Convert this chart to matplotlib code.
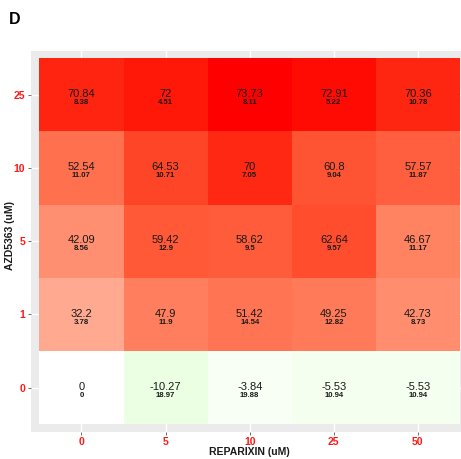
import numpy as np
import matplotlib
matplotlib.use("Agg")
import matplotlib.pyplot as plt
from matplotlib.colors import ListedColormap, Normalize

# Doses
reparixin = ["0", "5", "10", "25", "50"]          # x axis (uM)
azd5363 = ["0", "1", "5", "10", "25"]             # y axis (uM), bottom to top

# Mean inhibition (%) per cell, rows follow azd5363 order
mean_vals = [
    [0, -10.27, -3.84, -5.53, -5.53],
    [32.2, 47.9, 51.42, 49.25, 42.73],
    [42.09, 59.42, 58.62, 62.64, 46.67],
    [52.54, 64.53, 70, 60.8, 57.57],
    [70.84, 72, 73.73, 72.91, 70.36],
]
# Standard deviation per cell
sd_vals = [
    [0, 18.97, 19.88, 10.94, 10.94],
    [3.78, 11.9, 14.54, 12.82, 8.73],
    [8.56, 12.9, 9.5, 9.57, 11.17],
    [11.07, 10.71, 7.05, 9.04, 11.87],
    [8.38, 4.51, 8.11, 5.22, 10.78],
]


# --- diverging green-white-red scale interpolated in CIE Lab ---
def srgb_to_lab(rgb):
    rgb = np.asarray(rgb, float)
    lin = np.where(rgb <= 0.04045, rgb / 12.92, ((rgb + 0.055) / 1.055) ** 2.4)
    M = np.array([[0.4124564, 0.3575761, 0.1804375],
                  [0.2126729, 0.7151522, 0.0721750],
                  [0.0193339, 0.1191920, 0.9503041]])
    xyz = lin @ M.T
    wp = np.array([0.95047, 1.0, 1.08883])
    t = xyz / wp
    d = 6 / 29
    f = np.where(t > d ** 3, np.cbrt(t), t / (3 * d * d) + 4 / 29)
    L = 116 * f[..., 1] - 16
    a = 500 * (f[..., 0] - f[..., 1])
    b = 200 * (f[..., 1] - f[..., 2])
    return np.stack([L, a, b], -1)


def lab_to_srgb(lab):
    lab = np.asarray(lab, float)
    fy = (lab[..., 0] + 16) / 116
    fx = fy + lab[..., 1] / 500
    fz = fy - lab[..., 2] / 200
    d = 6 / 29
    f = np.stack([fx, fy, fz], -1)
    t = np.where(f > d, f ** 3, 3 * d * d * (f - 4 / 29))
    xyz = t * np.array([0.95047, 1.0, 1.08883])
    Minv = np.array([[3.2404542, -1.5371385, -0.4985314],
                     [-0.9692660, 1.8760108, 0.0415560],
                     [0.0556434, -0.2040259, 1.0572252]])
    lin = xyz @ Minv.T
    lin = np.clip(lin, 0, 1)
    rgb = np.where(lin <= 0.0031308, 12.92 * lin, 1.055 * lin ** (1 / 2.4) - 0.055)
    return np.clip(rgb, 0, 1)


low, mid, high = (0, 1, 0), (1, 1, 1), (1, 0, 0)
labs = srgb_to_lab([low, mid, high])
n = 256
s = np.linspace(0, 1, n)[:, None]
lower = labs[0] + (labs[1] - labs[0]) * s
upper = labs[1] + (labs[2] - labs[1]) * s
cmap = ListedColormap(np.vstack([lab_to_srgb(lower[:-1]), lab_to_srgb(upper)]))

vals = np.array(mean_vals, float)
lim = np.abs(vals).max()
norm = Normalize(vmin=-lim, vmax=lim)

plt.rcParams["font.family"] = ["Liberation Sans", "DejaVu Sans"]

fig = plt.figure(figsize=(4.61, 4.59), dpi=100)
W, H = 461, 459
px0, px1 = 31, 468.4
py0, py1 = 50.7, 431.6
ax = fig.add_axes([px0 / W, 1 - py1 / H, (px1 - px0) / W, (py1 - py0) / H])
ax.set_facecolor("#ebebeb")
ax.set_axisbelow(True)
for sp in ax.spines.values():
    sp.set_visible(False)

nx, ny = len(reparixin), len(azd5363)
xe = np.arange(nx + 1) - 0.5
ye = np.arange(ny + 1) - 0.5
ax.pcolormesh(xe, ye, vals, cmap=cmap, norm=norm, shading="flat", zorder=2)

for i in range(ny):
    for j in range(nx):
        ax.text(j, i + 0.01, f"{mean_vals[i][j]:g}", ha="center", va="center",
                fontsize=8, color="#1a1a1a", zorder=3)
        ax.text(j, i - 0.105, f"{sd_vals[i][j]:g}", ha="center", va="center",
                fontsize=5.6, fontweight="bold", color="#1a1a1a", zorder=3)

ax.set_xlim(-0.6, nx - 0.4)
ax.set_ylim(-0.6, ny - 0.4)
ax.set_xticks(range(nx))
ax.set_xticklabels(reparixin)
ax.set_yticks(range(ny))
ax.set_yticklabels(azd5363)
ax.grid(True, color="white", linewidth=1.0, zorder=0)
ax.tick_params(axis="both", length=2.5, width=0.6, color="#555555",
               labelcolor="#ff1a1a", labelsize=7.6, pad=1.5)
for lab in ax.get_xticklabels() + ax.get_yticklabels():
    lab.set_fontweight("bold")

fig.text(249.7 / W, 1 - 451.7 / H, "REPARIXIN (uM)", ha="center", va="center",
         fontsize=7.5, fontweight="bold", color="#1a1a1a")
fig.text(10 / W, 1 - 235 / H, "AZD5363 (uM)", ha="center", va="center",
         rotation=90, fontsize=7.5, fontweight="bold", color="#1a1a1a")
fig.text(9 / W, 1 - 20 / H, "D", ha="left", va="center",
         fontsize=11.5, fontweight="bold", color="black")

fig.savefig("out.png", dpi=100)
